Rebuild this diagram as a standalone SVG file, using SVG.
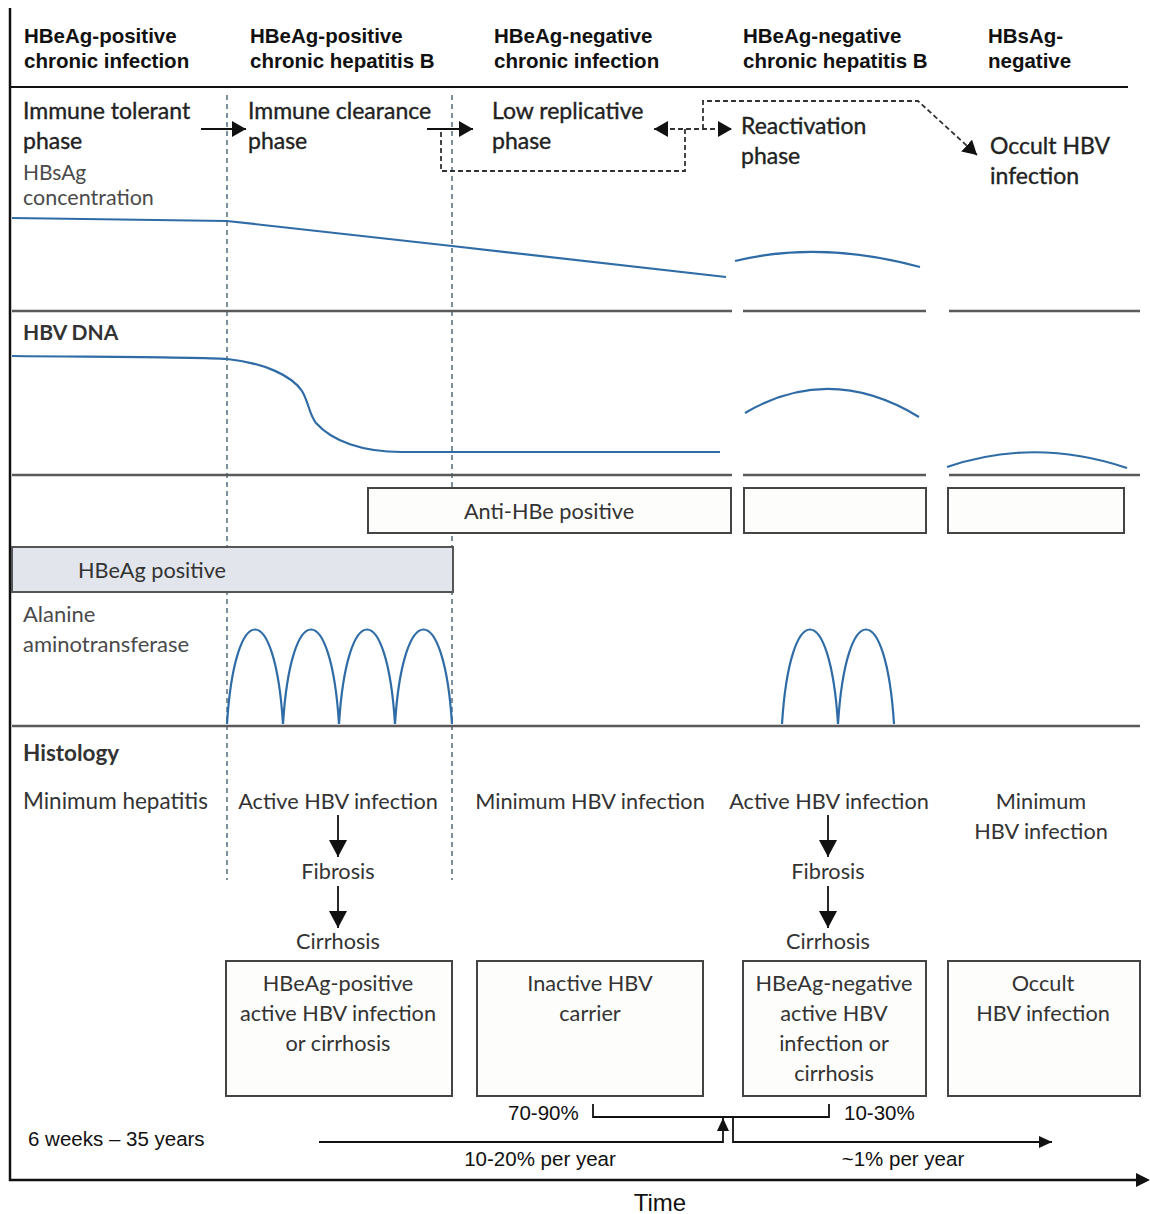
<svg xmlns="http://www.w3.org/2000/svg" width="1150" height="1214" viewBox="0 0 1150 1214">
<style>
.hd{font-family:"Liberation Sans",Arial,sans-serif;font-weight:bold;font-size:20.5px;fill:#111}
.ph{font-family:Lato,"Open Sans",sans-serif;font-size:23px;fill:#222;stroke:#222;stroke-width:0.35}
.lb{font-family:Lato,"Open Sans",sans-serif;font-size:22px;fill:#4a4a4a}
.sb{font-family:Lato,"Open Sans",sans-serif;font-size:21px;font-weight:bold;fill:#333}
.tx{font-family:Lato,"Open Sans",sans-serif;font-size:21.7px;fill:#333}
.ar{font-family:"Liberation Sans",Arial,sans-serif;font-size:20.5px;fill:#111}
.c{text-anchor:middle}
.grid{stroke:#5a5a5a;stroke-width:2.5;fill:none}
.blue{stroke:#2f6ca6;stroke-width:2.2;fill:none}
.box{fill:#fdfdfb;stroke:#444;stroke-width:2}
.div{stroke:#5d7583;stroke-width:1.6;stroke-dasharray:5 4;fill:none}
.dsh{stroke:#333;stroke-width:1.8;stroke-dasharray:5 3;fill:none}
.sol{stroke:#111;stroke-width:1.8;fill:none}
</style>
<defs>
<marker id="ah" markerUnits="userSpaceOnUse" markerWidth="14" markerHeight="16" refX="14" refY="8" orient="auto-start-reverse"><path d="M0,0 L14,8 L0,16 z" fill="#111"/></marker>
<marker id="ahv" markerUnits="userSpaceOnUse" markerWidth="17" markerHeight="18" refX="17" refY="9" orient="auto"><path d="M0,0 L17,9 L0,18 z" fill="#111"/></marker>
<marker id="ahs" markerUnits="userSpaceOnUse" markerWidth="13" markerHeight="12" refX="13" refY="6" orient="auto"><path d="M0,0 L13,6 L0,12 z" fill="#111"/></marker>
</defs>

<g id="axes">
<path d="M10,8 V1180 H1138" stroke="#111" stroke-width="2.5" fill="none"/>
<path d="M1136,1173 L1150,1180 L1136,1187 z" fill="#111"/>
<line x1="10" y1="87" x2="1128" y2="87" stroke="#111" stroke-width="2"/>
<text class="ar c" x="660" y="1211" style="font-size:24px">Time</text>
</g>

<g id="headers">
<text class="hd" x="24" y="43">HBeAg-positive</text>
<text class="hd" x="24" y="68">chronic infection</text>
<text class="hd" x="250" y="43">HBeAg-positive</text>
<text class="hd" x="250" y="68">chronic hepatitis B</text>
<text class="hd" x="494" y="43">HBeAg-negative</text>
<text class="hd" x="494" y="68">chronic infection</text>
<text class="hd" x="743" y="43">HBeAg-negative</text>
<text class="hd" x="743" y="68">chronic hepatitis B</text>
<text class="hd" x="988" y="43">HBsAg-</text>
<text class="hd" x="988" y="68">negative</text>
</g>

<g id="dividers">
<line class="div" x1="227" y1="95" x2="227" y2="880"/>
<line class="div" x1="452" y1="95" x2="452" y2="880"/>
</g>

<g id="phases">
<g id="phase-tolerant"><text class="ph" x="23" y="119">Immune tolerant</text><text class="ph" x="23" y="149">phase</text></g>
<g id="phase-clearance"><text class="ph" x="248" y="119">Immune clearance</text><text class="ph" x="248" y="149">phase</text></g>
<g id="phase-low"><text class="ph" x="492" y="119">Low replicative</text><text class="ph" x="492" y="149">phase</text></g>
<g id="phase-react"><text class="ph" x="741" y="134">Reactivation</text><text class="ph" x="741" y="164">phase</text></g>
<g id="phase-occult"><text class="ph" x="990" y="154">Occult HBV</text><text class="ph" x="990" y="184">infection</text></g>
</g>

<g id="connectors">
<line class="sol" x1="201" y1="129" x2="246" y2="129" marker-end="url(#ah)"/>
<line class="sol" x1="427" y1="129" x2="473" y2="129" marker-end="url(#ah)"/>
<path class="dsh" d="M685,129 V171 H441 V131"/>
<path class="dsh" d="M654,129 H732" marker-start="url(#ah)" marker-end="url(#ah)"/>
<path class="dsh" d="M703,129 V101 H918 L977,155" marker-end="url(#ah)"/>
<line class="sol" x1="338" y1="815" x2="338" y2="857" marker-end="url(#ahv)"/>
<line class="sol" x1="338" y1="886" x2="338" y2="928" marker-end="url(#ahv)"/>
<line class="sol" x1="828" y1="815" x2="828" y2="857" marker-end="url(#ahv)"/>
<line class="sol" x1="828" y1="886" x2="828" y2="928" marker-end="url(#ahv)"/>
<path class="sol" d="M593,1104 V1117 H829 V1104" stroke-width="1.6"/>
<path class="sol" d="M319,1142 H723 V1118" stroke-width="1.6" marker-end="url(#ahs)"/>
<path class="sol" d="M733,1117 V1142 H1052" stroke-width="1.6" marker-end="url(#ahs)"/>
</g>

<g id="hbsag-panel">
<text class="lb" x="23" y="180" style="font-size:21px">HBsAg</text>
<text class="lb" x="23" y="205" style="font-size:21.5px">concentration</text>
<path class="blue" d="M12,218 C100,219 180,220 227,221 L452,246 L726,277"/>
<path class="blue" d="M735,261 Q820,240 920,267"/>
<path class="grid" d="M12,311 H732 M743,311 H926 M949,311 H1140"/>
</g>

<g id="hbvdna-panel">
<text class="sb" x="23" y="340">HBV DNA</text>
<path class="blue" d="M12,356 C120,357 200,357 227,359 C265,363 292,376 302,391 C309,403 309,414 316,423 C332,441 362,452 402,452 L720,452"/>
<path class="blue" d="M745,413 Q830,363 919,417"/>
<path class="blue" d="M947,467 Q1035,437 1127,468"/>
<path class="grid" d="M12,475 H732 M743,475 H926 M949,475 H1140"/>
</g>

<g id="antihbe">
<rect class="box" x="368" y="488" width="363" height="45"/>
<text class="tx c" x="549" y="519">Anti-HBe positive</text>
<rect class="box" x="744" y="488" width="182" height="45"/>
<rect class="box" x="948" y="488" width="176" height="45"/>
</g>

<g id="hbeag">
<rect x="12" y="547" width="441" height="45" fill="#e2e5ec" stroke="#555" stroke-width="2"/>
<text class="tx" x="78" y="578">HBeAg positive</text>
</g>

<g id="alt-panel">
<text class="lb" x="23" y="622">Alanine</text>
<text class="lb" x="23" y="652">aminotransferase</text>
<path class="blue" d="M227,724 C235,598 275,598 283,724 C291,598 331,598 339,724 C347,598 387,598 395,724 C403,598 444,598 452,724"/>
<path class="blue" d="M782,724 C790,598 830,598 838,724 C846,598 886,598 894,724"/>
<line x1="12" y1="726" x2="1140" y2="726" stroke="#5a5a5a" stroke-width="2.5"/>
</g>

<g id="histology">
<text class="sb" x="23" y="761" style="font-size:22.5px">Histology</text>
<text class="tx" x="23" y="809" style="font-size:22.5px">Minimum hepatitis</text>
<text class="tx c" x="338" y="809">Active HBV infection</text>
<text class="tx c" x="338" y="879">Fibrosis</text>
<text class="tx c" x="338" y="949">Cirrhosis</text>
<text class="tx c" x="590" y="809">Minimum HBV infection</text>
<text class="tx c" x="829" y="809">Active HBV infection</text>
<text class="tx c" x="828" y="879">Fibrosis</text>
<text class="tx c" x="828" y="949">Cirrhosis</text>
<text class="tx c" x="1041" y="809">Minimum</text>
<text class="tx c" x="1041" y="839">HBV infection</text>
</g>

<g id="outcome-1">
<rect class="box" x="226" y="961" width="226" height="135" fill="#fff"/>
<text class="tx c" x="338" y="991">HBeAg-positive</text>
<text class="tx c" x="338" y="1021">active HBV infection</text>
<text class="tx c" x="338" y="1051">or cirrhosis</text>
</g>
<g id="outcome-2">
<rect class="box" x="477" y="961" width="226" height="135"/>
<text class="tx c" x="590" y="991">Inactive HBV</text>
<text class="tx c" x="590" y="1021">carrier</text>
</g>
<g id="outcome-3">
<rect class="box" x="743" y="961" width="183" height="135"/>
<text class="tx c" x="834" y="991">HBeAg-negative</text>
<text class="tx c" x="834" y="1021">active HBV</text>
<text class="tx c" x="834" y="1051">infection or</text>
<text class="tx c" x="834" y="1081">cirrhosis</text>
</g>
<g id="outcome-4">
<rect class="box" x="948" y="961" width="192" height="135"/>
<text class="tx c" x="1043" y="991">Occult</text>
<text class="tx c" x="1043" y="1021">HBV infection</text>
</g>

<g id="rates">
<text class="ar" x="508" y="1120">70-90%</text>
<text class="ar" x="844" y="1120">10-30%</text>
<text class="ar" x="28" y="1146">6 weeks – 35 years</text>
<text class="ar c" x="540" y="1166">10-20% per year</text>
<text class="ar c" x="903" y="1166">~1% per year</text>
</g>
</svg>
